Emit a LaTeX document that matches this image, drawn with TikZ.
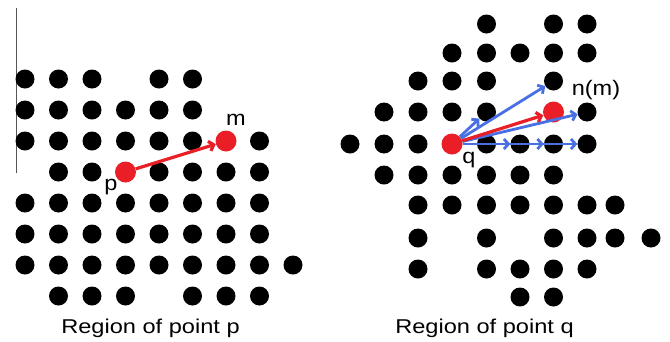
\documentclass[tikz,border=0pt]{standalone}
\usepackage{fontspec}
\setmainfont{Liberation Sans}
\usetikzlibrary{arrows.meta}
\definecolor{ptred}{RGB}{233,30,38}
\definecolor{vecblue}{RGB}{72,112,226}
\definecolor{rule}{RGB}{85,85,85}
\begin{document}
\begin{tikzpicture}[x=1pt,y=-1pt,
  dot/.style={circle,fill=black,inner sep=0pt,minimum size=19pt},
  reddot/.style={circle,fill=ptred,inner sep=0pt,minimum size=21pt},
  redvec/.style={draw=ptred,line width=3.2pt,-{Straight Barb[length=4.5pt,width=10pt]}},
  bluevec/.style={draw=vecblue,line width=2.8pt,-{Straight Barb[length=4.5pt,width=10pt]}},
  caption/.style={font=\fontsize{20}{24}\selectfont,anchor=base,inner sep=0pt},
  ptlabel/.style={font=\fontsize{21}{24}\selectfont,anchor=base,inner sep=0pt}]
\useasboundingbox (0,0) rectangle (670,341);

% left frame rule
\coordinate (ruletop) at (16,8);
\coordinate (rulebot) at (16,173);
\draw[rule,line width=1pt] (ruletop) -- (rulebot);

% ---- region of point p ----
\foreach \r/\cols in {0/{0,1,2,4,5},1/{0,1,2,3,4,5},2/{0,1,2,3,4,5,7},
                      3/{1,2,4,5,6,7},4/{0,1,2,3,4,5,6,7},5/{0,1,2,3,4,5,6,7},
                      6/{0,1,2,3,4,5,6,7,8},7/{1,2,3,5,6,7}}
  \foreach \c in \cols
    \node[dot] (L-\c-\r) at (25+33.5*\c, 79+31*\r) {};

\node[reddot] (p) at (125.5,172) {};
\node[reddot] (m) at (226,141) {};
\draw[redvec] (p) -- (m);

\node[ptlabel] (lblm) at (236,125) {\scalebox{1.12}[1]{m}};
\node[ptlabel] (lblp) at (111,190) {\scalebox{1.12}[1]{p}};
\node[caption] (capp) at (150.5,333) {\scalebox{1.18}[1]{Region of point p}};

% ---- region of point q ----
\def\rx{{350,384,418,452,486.5,520,553.5,587,615,651}}
\def\ry{{24,53,81,112,144,175,205,238,269,297}}
\foreach \r/\cols in {0/{4,6,7},1/{3,4,5,6,7},2/{2,3,4,6},3/{1,2,3,4,7},
                      4/{0,1,2,4,5,6,7},5/{1,2,3,4,5,6},6/{2,3,4,5,6,7,8},
                      7/{2,4,6,7,8,9},8/{2,4,5,6,7},9/{5,6}}
  \foreach \c in \cols {
    \pgfmathsetmacro\px{\rx[\c]}
    \pgfmathsetmacro\py{\ry[\r]}
    \node[dot] (R-\c-\r) at (\px,\py) {};
  }

\node[reddot] (q) at (452,144) {};
\node[reddot] (nm) at (553.5,112) {};

\foreach \t in {R-4-3,R-6-2,R-7-3,R-7-4,R-6-4,R-5-4}
  \draw[bluevec] (q) -- (\t);
\draw[redvec] (q) -- (nm);

\node[ptlabel] (lblq) at (469,163) {\scalebox{1.12}[1]{q}};
\node[ptlabel] (lblnm) at (596,95) {\scalebox{1.12}[1]{n(m)}};
\node[caption] (capq) at (484.5,333) {\scalebox{1.18}[1]{Region of point q}};
\end{tikzpicture}
\end{document}
